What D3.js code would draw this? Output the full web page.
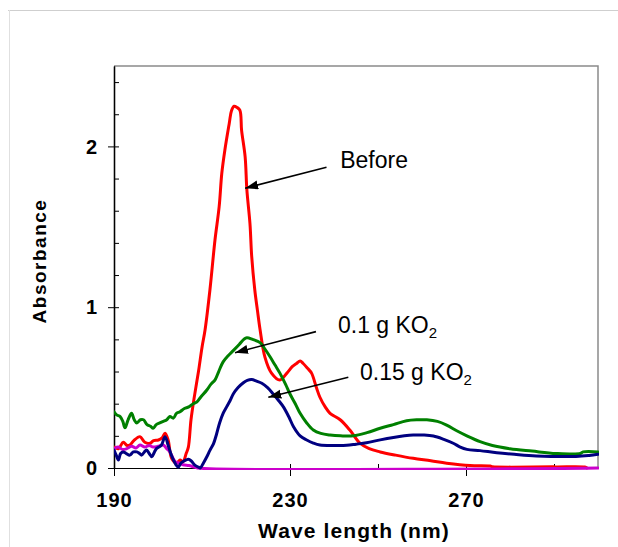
<!DOCTYPE html>
<html><head><meta charset="utf-8">
<script src="https://cdn.jsdelivr.net/npm/d3@7"></script>
<style>body{margin:0;background:#fff}svg{display:block}</style>
</head><body><svg id="c" width="618" height="547"></svg>
<script>
// ---- data (wavelength nm, absorbance) ----
const beforeSeries = [[190,0.13],[191,0.12],[192.1,0.16],[193,0.14],[193.6,0.143],[194.5,0.17],[195.9,0.195],[197,0.16],[198.2,0.154],[199,0.17],[200.1,0.174],[201,0.19],[201.6,0.216],[202.3,0.174],[203.1,0.06],[204.2,0.03],[205,0.05],[205.7,0.04],[206.4,0.09],[206.9,0.13],[207.5,0.3],[208.3,0.45],[209.2,0.6],[210,0.75],[210.7,0.86],[211.8,1.107],[212.95,1.418],[213.9,1.625],[214.5,1.833],[215.2,1.978],[216.2,2.144],[216.7,2.222],[217.3,2.25],[217.9,2.243],[218.6,2.226],[219,2.1],[219.8,1.936],[220.2,1.729],[220.9,1.52],[221.3,1.314],[222,1.107],[222.6,0.98],[223.2,0.86],[224.3,0.69],[225.8,0.59],[227.7,0.547],[229.3,0.59],[230.5,0.63],[231.5,0.65],[232.3,0.665],[233,0.65],[234,0.62],[234.9,0.59],[236,0.5],[236.8,0.44],[238,0.38],[239.1,0.34],[241.4,0.3],[243.6,0.236],[245.9,0.154],[248,0.12],[250.5,0.1],[254,0.08],[258,0.06],[262,0.045],[265.6,0.03],[270.9,0.015],[275.5,0.012],[276,0.008],[290,0.007],[297,0.006],[297.5,0]];
const ko2_010Series = [[190,0.35],[190.6,0.33],[191.4,0.32],[192,0.29],[192.5,0.25],[193.2,0.3],[194,0.34],[194.6,0.3],[195.2,0.28],[196,0.3],[196.7,0.3],[197.5,0.27],[198.3,0.26],[198.9,0.247],[199.6,0.27],[200.4,0.28],[201.2,0.29],[202,0.3],[202.7,0.32],[203.5,0.31],[204.2,0.34],[205,0.35],[206,0.37],[207,0.38],[208,0.4],[208.8,0.41],[209.7,0.44],[211.1,0.485],[212,0.52],[213,0.55],[213.8,0.6],[214.8,0.66],[216,0.7],[217.1,0.73],[218.5,0.77],[219.5,0.8],[220.2,0.81],[221.5,0.8],[223.2,0.78],[224.3,0.74],[225.5,0.69],[226.6,0.64],[227.7,0.59],[229,0.52],[230,0.46],[231.2,0.4],[232.3,0.34],[233.8,0.28],[235.3,0.236],[237,0.215],[239.1,0.205],[241.5,0.2],[244.4,0.2],[247.5,0.22],[250.5,0.247],[253.5,0.27],[256.5,0.294],[259,0.3],[261.1,0.3],[263.5,0.29],[265.6,0.267],[268,0.23],[270.2,0.2],[273.2,0.164],[276,0.14],[280,0.12],[285,0.105],[290.5,0.09],[296,0.09],[296.6,0.1],[300,0.1]];
const ko2_015Series = [[190,0.112],[190.5,0.08],[191,0.05],[191.5,0.09],[192.1,0.1],[192.8,0.09],[193.6,0.08],[194.4,0.1],[195.2,0.1],[195.8,0.09],[196.3,0.08],[196.9,0.1],[197.4,0.112],[198,0.09],[198.6,0.07],[199.2,0.1],[199.7,0.122],[200.2,0.13],[200.8,0.143],[201.6,0.195],[202.3,0.143],[202.9,0.09],[203.5,0.05],[204.1,0.02],[204.6,0.005],[205.2,0.03],[205.7,0.04],[206.4,0.05],[206.9,0.054],[207.5,0.045],[208.3,0.02],[209.2,0.005],[209.6,0],[210.3,0.03],[211.1,0.07],[211.8,0.11],[212.6,0.15],[213.3,0.21],[214,0.28],[214.8,0.34],[215.6,0.38],[216.4,0.42],[217.1,0.46],[218.2,0.5],[219.4,0.53],[220.3,0.545],[221.3,0.55],[222.4,0.54],[223.6,0.527],[224.9,0.5],[226.2,0.46],[227.4,0.42],[228.5,0.38],[229.7,0.32],[230.8,0.257],[232.3,0.2],[233.8,0.174],[235.3,0.155],[236.8,0.143],[240,0.14],[242.9,0.141],[245,0.148],[247.4,0.157],[250.5,0.175],[253.5,0.19],[256,0.2],[258,0.205],[260.5,0.205],[262.6,0.199],[264.8,0.18],[267.1,0.154],[268.7,0.13],[270.2,0.116],[273.2,0.108],[277,0.095],[281,0.085],[286,0.075],[295,0.072],[298,0.078],[300,0.085]];
const blankSeries = [[190,0.12],[191,0.13],[192,0.115],[192.9,0.12],[194,0.135],[195,0.125],[195.9,0.143],[197,0.13],[198,0.14],[198.9,0.13],[200,0.135],[201.2,0.143],[202,0.12],[202.7,0.1],[203.9,0.04],[204.8,0.03],[205.7,0.02],[207,0.015],[208,0.008],[209,0],[300,0]];

const xMajorTicks = [190, 230, 270];
const xMinorTicks = [210, 250, 290];
const yMajorTicks = [0, 1, 2];
const yMinorTicks = [0.2, 0.4, 0.6, 0.8, 1.2, 1.4, 1.6, 1.8, 2.2, 2.4];
const xTitle = "Wave length (nm)";
const yTitle = "Absorbance";

// annotations: label position and arrow from/to in data units
const annLabels = ["Before", "0.1 g KO", "0.15 g KO"];
const annSub = ["", "2", "2"];
const annText = [[241.4, 1.866], [240.9, 0.84], [245.9, 0.547]];
const annFrom = [[238.3, 1.87], [235.9, 0.848], [243.25, 0.564]];
const annTo = [[219.8, 1.74], [217.5, 0.717], [225.07, 0.44]];

// ---- drawing ----
const svg = d3.select("#c");
const x = d3.scaleLinear().domain([190, 300]).range([114, 598]);
const y = d3.scaleLinear().domain([0, 2.5]).range([468, 66]);
const font = "'Liberation Sans', Arial, sans-serif";

// outer frame
svg.append("line").attr("x1", 8).attr("x2", 618).attr("y1", 10.5).attr("y2", 10.5).attr("stroke", "#cfcfcf");
svg.append("line").attr("x1", 9.5).attr("x2", 9.5).attr("y1", 10).attr("y2", 547).attr("stroke", "#e0e0e0");

// plot frame top/right
svg.append("path")
  .attr("d", `M${x(190)},${y(2.5)}H${x(300)}V${y(0)}`)
  .attr("fill", "none").attr("stroke", "#8a8a8a").attr("stroke-width", 1.5);

svg.append("defs").append("clipPath").attr("id", "clip")
  .append("rect").attr("x", x(190)).attr("y", y(2.5) - 2).attr("width", x(300) - x(190) + 1).attr("height", y(0) - y(2.5) + 4);

// axes
const gx = svg.append("g").attr("transform", `translate(0,${y(0)})`);
gx.call(d3.axisBottom(x).tickValues(xMajorTicks).tickSize(8).tickSizeOuter(0).tickFormat(d3.format("d")));
gx.append("g").call(d3.axisBottom(x).tickValues(xMinorTicks).tickSize(-4).tickSizeOuter(0).tickFormat(""));
gx.selectAll(".tick line").attr("stroke", "#000");
gx.selectAll(".tick").filter(d => xMajorTicks.includes(d)).select("line").attr("y1", -4);
gx.selectAll(".domain").attr("stroke", "#000");
gx.selectAll(".tick text").attr("font-family", font).attr("font-size", 20).attr("font-weight", "bold")
  .attr("letter-spacing", 1).attr("fill", "#000").attr("y", 25).attr("dy", "0.71em");

const gy = svg.append("g").attr("transform", `translate(${x(190)},0)`);
gy.call(d3.axisLeft(y).tickValues(yMajorTicks).tickSize(6).tickSizeOuter(0).tickFormat(d3.format("d")));
gy.append("g").call(d3.axisLeft(y).tickValues(yMinorTicks).tickSize(-5).tickSizeOuter(0).tickFormat(""));
gy.selectAll(".tick line").attr("stroke", "#000");
gy.selectAll(".tick").filter(d => yMajorTicks.includes(d)).select("line").attr("x1", 5);
gy.selectAll(".domain").attr("stroke", "#000").attr("stroke-width", 1.3);
gy.selectAll(".tick text").attr("font-family", font).attr("font-size", 20).attr("font-weight", "bold")
  .attr("fill", "#000").attr("x", -17).attr("dy", "0.33em");

// titles
svg.append("text").attr("x", 354).attr("y", 538).attr("text-anchor", "middle")
  .attr("font-family", font).attr("font-size", 21).attr("font-weight", "bold").attr("letter-spacing", 1.1)
  .text(xTitle);
svg.append("text").attr("transform", "translate(46,261) rotate(-90)").attr("text-anchor", "middle")
  .attr("font-family", font).attr("font-size", 19).attr("font-weight", "bold").attr("letter-spacing", 1.5)
  .text(yTitle);

// series
const line = d3.line().x(d => x(d[0])).y(d => y(d[1])).curve(d3.curveCatmullRom.alpha(0.5));
const plot = svg.append("g").attr("clip-path", "url(#clip)");
const series = [
  { data: beforeSeries, color: "#ff0000" },
  { data: blankSeries, color: "#cc00cc" },
  { data: ko2_010Series, color: "#008000" },
  { data: ko2_015Series, color: "#000080" }
];
plot.selectAll("path.s").data(series).join("path").attr("class", "s")
  .attr("d", d => line(d.data)).attr("fill", "none").attr("stroke", d => d.color)
  .attr("stroke-width", 3).attr("stroke-linejoin", "round").attr("stroke-linecap", "round");

// annotations
svg.select("defs").append("marker").attr("id", "arr").attr("markerUnits", "userSpaceOnUse")
  .attr("markerWidth", 14).attr("markerHeight", 10).attr("refX", 13).attr("refY", 4.5).attr("orient", "auto")
  .append("path").attr("d", "M0,0L13,4.5L0,9Z").attr("fill", "#000");
annLabels.forEach((t, i) => {
  svg.append("line").attr("x1", x(annFrom[i][0])).attr("y1", y(annFrom[i][1]))
    .attr("x2", x(annTo[i][0])).attr("y2", y(annTo[i][1]))
    .attr("stroke", "#000").attr("stroke-width", 1.6).attr("marker-end", "url(#arr)");
  const tx = svg.append("text").attr("x", x(annText[i][0])).attr("y", y(annText[i][1]))
    .attr("font-family", font).attr("font-size", 23).attr("fill", "#000").text(t);
  if (annSub[i]) tx.append("tspan").attr("font-size", 15).attr("dy", 5).text(annSub[i]);
});
</script></body></html>
